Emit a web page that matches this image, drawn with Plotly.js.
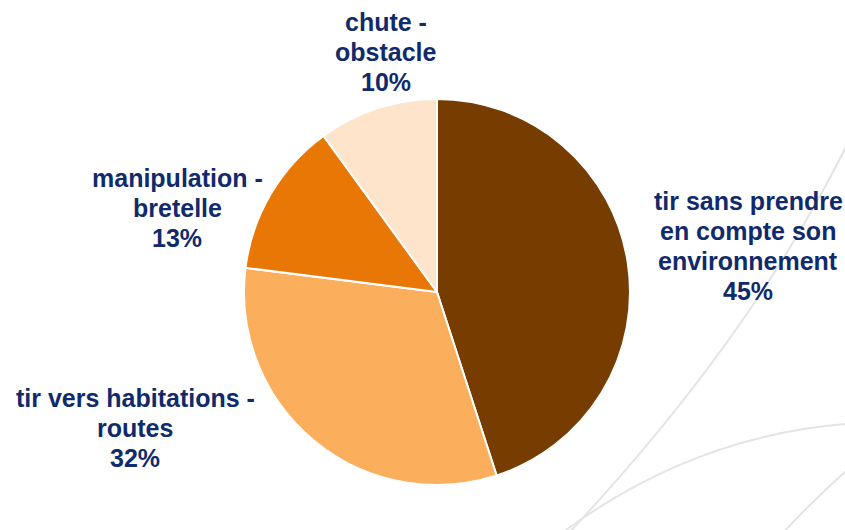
<!DOCTYPE html>
<html>
<head>
<meta charset="utf-8">
<script src="https://cdn.plot.ly/plotly-3.0.1.min.js"></script>
<style>html,body{margin:0;padding:0;background:#fff;}#chart{width:845px;height:530px;}</style>
</head>
<body>
<div id="chart"></div>
<script>
// Data
var categories = [
  "tir sans prendre<br>en compte son<br>environnement",
  "tir vers habitations -<br>routes",
  "manipulation -<br>bretelle",
  "chute -<br>obstacle"
];
var values = [45, 32, 13, 10];
var sliceColors = ["#763C00", "#FBAF5D", "#E87706", "#FDE4CA"];

// Label placement (pixel centres) - layout only
var labelPos = [[748, 246], [135, 428], [177, 208], [386, 52]];
var lineGap = 30;

var W = 845, H = 530;
function px(x) { return x / W; }
function py(y) { return 1 - y / H; }

var total = values.reduce(function (a, b) { return a + b; }, 0);
var annotations = [];
categories.forEach(function (c, i) {
  var lines = c.split("<br>").concat([Math.round(values[i] / total * 100) + "%"]);
  var n = lines.length;
  lines.forEach(function (t, k) {
    annotations.push({
      text: t,
      x: px(labelPos[i][0]), y: py(labelPos[i][1] + (k - (n - 1) / 2) * lineGap),
      xref: "paper", yref: "paper",
      xanchor: "center", yanchor: "middle",
      showarrow: false,
      align: "center",
      font: { family: "Liberation Sans, Arial, sans-serif", size: 25, color: "#102A6C", weight: "bold" }
    });
  });
});

function curve(p0, c, p1) {
  return "M " + px(p0[0]) + "," + py(p0[1]) + " Q " + px(c[0]) + "," + py(c[1]) + " " + px(p1[0]) + "," + py(p1[1]);
}
var bgLine = { color: "#E4E4E4", width: 2 };
var shapes = [
  { type: "path", xref: "paper", yref: "paper", layer: "below", line: bgLine, path: curve([858, 122], [760, 330], [566, 536]) },
  { type: "path", xref: "paper", yref: "paper", layer: "below", line: bgLine, path: curve([860, 423], [700, 432], [566, 530]) },
  { type: "path", xref: "paper", yref: "paper", layer: "below", line: bgLine, path: curve([855, 463], [815, 498], [780, 536]) }
];

var trace = {
  type: "pie",
  labels: categories,
  values: values,
  sort: false,
  direction: "clockwise",
  rotation: 0,
  textinfo: "none",
  hoverinfo: "label+percent",
  marker: { colors: sliceColors, line: { color: "#FFFFFF", width: 2 } },
  domain: { x: [px(244), px(630)], y: [py(485.5), py(98.5)] },
  showlegend: false
};

var layout = {
  width: W, height: H,
  margin: { l: 0, r: 0, t: 0, b: 0 },
  paper_bgcolor: "#FFFFFF",
  plot_bgcolor: "#FFFFFF",
  showlegend: false,
  annotations: annotations,
  shapes: shapes
};

Plotly.newPlot("chart", [trace], layout, { displayModeBar: false, staticPlot: true });
</script>
</body>
</html>
